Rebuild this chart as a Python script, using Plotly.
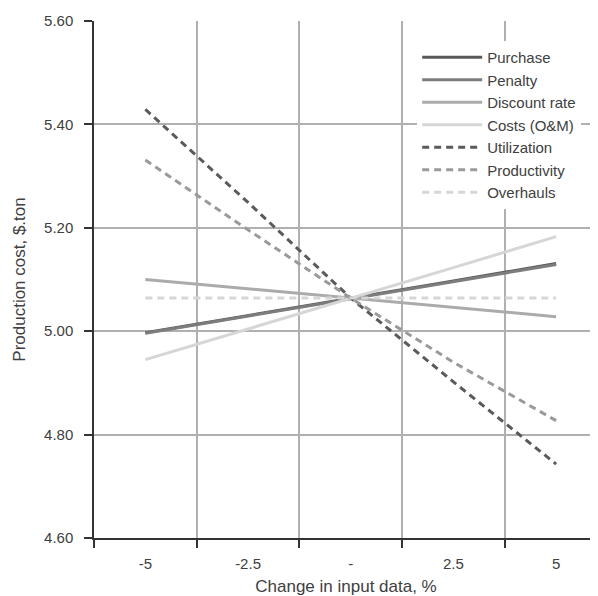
import plotly.graph_objects as go

categories = ["-5", "-2.5", "-", "2.5", "5"]
purchase = [4.997, 5.030, 5.064, 5.097, 5.131]
penalty = [4.996, 5.029, 5.063, 5.096, 5.129]
discount_rate = [5.100, 5.082, 5.064, 5.046, 5.028]
costs_om = [4.945, 5.004, 5.064, 5.123, 5.183]
utilization = [5.429, 5.249, 5.064, 4.902, 4.743]
productivity = [5.331, 5.196, 5.064, 4.940, 4.827]
overhauls = [5.064, 5.064, 5.064, 5.064, 5.064]

y_ticks = [4.6, 4.8, 5.0, 5.2, 5.4, 5.6]
y_tick_labels = ["4.60", "4.80", "5.00", "5.20", "5.40", "5.60"]

FONT = "Liberation Sans, Arial, sans-serif"
TXT = "#404040"

series = [
    ("Purchase", purchase, "#5a5a5a", "solid", 3),
    ("Penalty", penalty, "#7d7d7d", "solid", 3),
    ("Discount rate", discount_rate, "#ababab", "solid", 3),
    ("Costs (O&M)", costs_om, "#d6d6d6", "solid", 3),
    ("Utilization", utilization, "#5a5a5a", "7px,5px", 3),
    ("Productivity", productivity, "#9a9a9a", "7px,5px", 3),
    ("Overhauls", overhauls, "#d6d6d6", "7px,5px", 3),
]

fig = go.Figure()
for name, vals, color, dash, w in series:
    fig.add_trace(go.Scatter(
        x=categories, y=vals, name=name, mode="lines",
        line=dict(color=color, width=w, dash=dash),
    ))

# page body has an 8px margin, so the figure starts at (8, 8)
W, H = 590, 588
ml, mt, mb = 85.5, 13, 58
cat_w = 102.8
plot_w = W - ml
plot_h = H - mt - mb
xmax = -0.5 + plot_w / cat_w

fig.update_layout(
    width=W, height=H,
    margin=dict(l=ml, r=0, t=mt, b=mb, autoexpand=False),
    paper_bgcolor="white", plot_bgcolor="white",
    font=dict(family=FONT, size=15, color=TXT),
    showlegend=True,
    legend=dict(
        x=(409 - ml) / plot_w, y=1 - 20 / plot_h,
        xanchor="left", yanchor="top",
        bgcolor="white", borderwidth=0,
        font=dict(size=15, color=TXT),
        itemwidth=60, tracegroupgap=0,
        traceorder="normal",
    ),
    xaxis=dict(
        type="category", categoryorder="array", categoryarray=categories,
        range=[-0.5, xmax], tickson="boundaries",
        ticks="outside", ticklen=8, tickwidth=1.5, tickcolor="#333333",
        showline=True, linecolor="#333333", linewidth=1.5,
        showgrid=True, gridcolor="#b0b0b0", gridwidth=1.5,
        tickfont=dict(size=15, color=TXT), ticklabelstandoff=11,
        title=dict(text="Change in input data, %", font=dict(size=17, color=TXT), standoff=13),
        zeroline=False, fixedrange=True,
    ),
    yaxis=dict(
        range=[4.6, 5.6], tickvals=y_ticks, ticktext=y_tick_labels,
        ticks="outside", ticklen=8, tickwidth=1.5, tickcolor="#333333",
        showline=True, linecolor="#333333", linewidth=1.5,
        showgrid=True, gridcolor="#b0b0b0", gridwidth=1.5,
        tickfont=dict(size=15, color=TXT), ticklabelstandoff=8,
        title=dict(text="Production cost, $.ton", font=dict(size=17, color=TXT), standoff=14),
        zeroline=False, fixedrange=True,
    ),
)

fig.write_html("out.html")
